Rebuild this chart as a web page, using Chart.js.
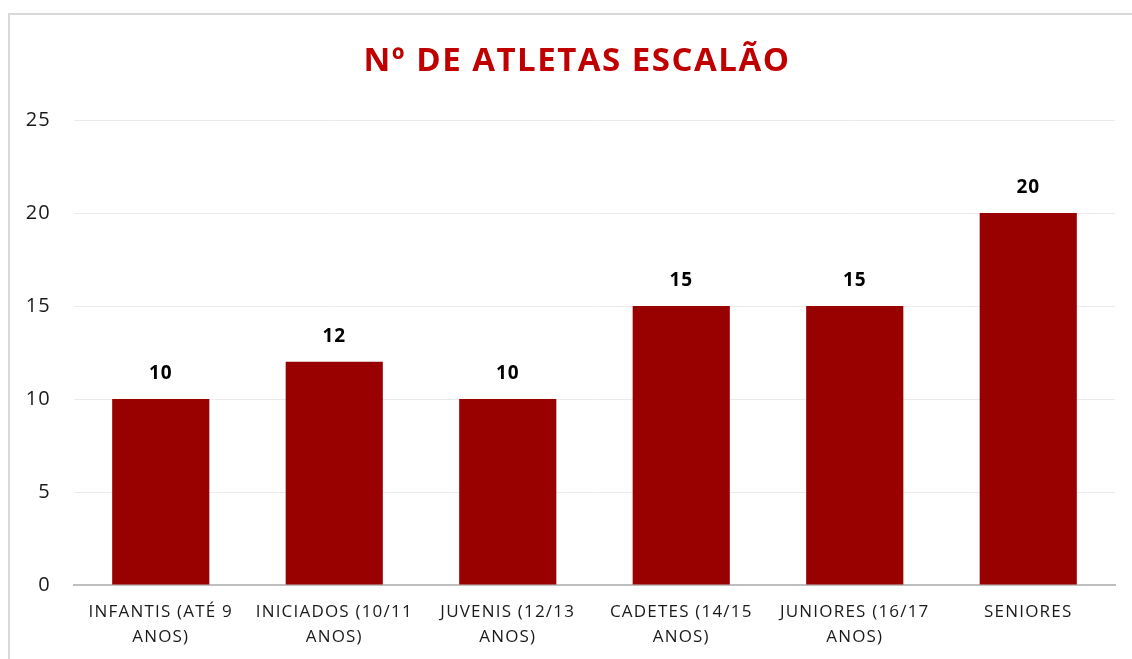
<!DOCTYPE html>
<html>
<head>
<meta charset="utf-8">
<script src="https://cdn.jsdelivr.net/npm/chart.js@4.4.1/dist/chart.umd.min.js"></script>
<style>
  html, body { margin: 0; padding: 0; background: #fff; }
  #wrap { position: relative; width: 1132px; height: 659px; overflow: hidden; }
  #frame { position: absolute; left: 8px; top: 13px; width: 1200px; height: 700px; border: 2px solid #d9d9d9; box-sizing: border-box; }
  #c { position: absolute; left: 0; top: 0; }
</style>
</head>
<body>
<div id="wrap">
  <div id="frame"></div>
  <canvas id="c" width="1132" height="659"></canvas>
</div>
<script>
const categories = [
  ['INFANTIS (ATÉ 9', 'ANOS)'],
  ['INICIADOS (10/11', 'ANOS)'],
  ['JUVENIS (12/13', 'ANOS)'],
  ['CADETES (14/15', 'ANOS)'],
  ['JUNIORES (16/17', 'ANOS)'],
  ['SENIORES']
];
const atletas = [10, 12, 10, 15, 15, 20];
const yTicks = [0, 5, 10, 15, 20, 25];
const titleText = 'Nº DE ATLETAS ESCALÃO';

const fontFam = '"Open Sans", "Noto Sans", sans-serif';

// a little letter spacing for axis text (Excel-like wide labels)
const spacing = {
  id: 'spacing',
  beforeLayout(chart) { chart.ctx.letterSpacing = '1.2px'; },
  beforeDraw(chart) { chart.ctx.letterSpacing = '1.2px'; }
};

// title drawn by hand so it can get its own spacing
const bigTitle = {
  id: 'bigTitle',
  afterDraw(chart) {
    const ctx = chart.ctx;
    ctx.save();
    ctx.letterSpacing = '1.5px';
    ctx.font = 'bold 33px ' + fontFam;
    ctx.fillStyle = '#c00000';
    ctx.textAlign = 'center';
    ctx.textBaseline = 'middle';
    ctx.fillText(titleText, 577, 62);
    ctx.restore();
  }
};

// value labels above bars
const valueLabels = {
  id: 'valueLabels',
  afterDatasetsDraw(chart) {
    const ctx = chart.ctx;
    const meta = chart.getDatasetMeta(0);
    ctx.save();
    ctx.letterSpacing = '1px';
    ctx.font = 'bold 19px ' + fontFam;
    ctx.fillStyle = '#000';
    ctx.textAlign = 'center';
    ctx.textBaseline = 'middle';
    meta.data.forEach(function (bar, i) {
      ctx.fillText(String(atletas[i]), bar.x, bar.y - 25);
    });
    ctx.restore();
  }
};

new Chart(document.getElementById('c'), {
  type: 'bar',
  data: {
    labels: categories,
    datasets: [{
      label: 'Atletas',
      data: atletas,
      backgroundColor: '#990000',
      categoryPercentage: 1,
      barPercentage: 0.56
    }]
  },
  options: {
    responsive: false,
    devicePixelRatio: 1,
    animation: false,
    layout: { padding: { left: 0, right: 17, top: 120, bottom: 0 } },
    plugins: {
      legend: { display: false },
      tooltip: { enabled: false },
      title: { display: false }
    },
    scales: {
      x: {
        afterFit(scale) { scale.height = 74; },
        grid: { display: false, drawTicks: false },
        border: { display: true, color: '#bfbfbf', width: 2 },
        ticks: {
          color: '#1a1a1a',
          font: { family: fontFam, size: 17, lineHeight: 1.5 },
          padding: 14,
          maxRotation: 0,
          autoSkip: false
        }
      },
      y: {
        min: 0,
        max: 25,
        afterFit(scale) { scale.width = 74; },
        afterBuildTicks(scale) { scale.ticks = yTicks.map(v => ({ value: v })); },
        grid: { color: '#ebebeb', lineWidth: 1, drawTicks: false },
        border: { display: false },
        ticks: {
          color: '#1a1a1a',
          font: { family: fontFam, size: 20 },
          padding: 23
        }
      }
    }
  },
  plugins: [spacing, valueLabels, bigTitle]
});
</script>
</body>
</html>
